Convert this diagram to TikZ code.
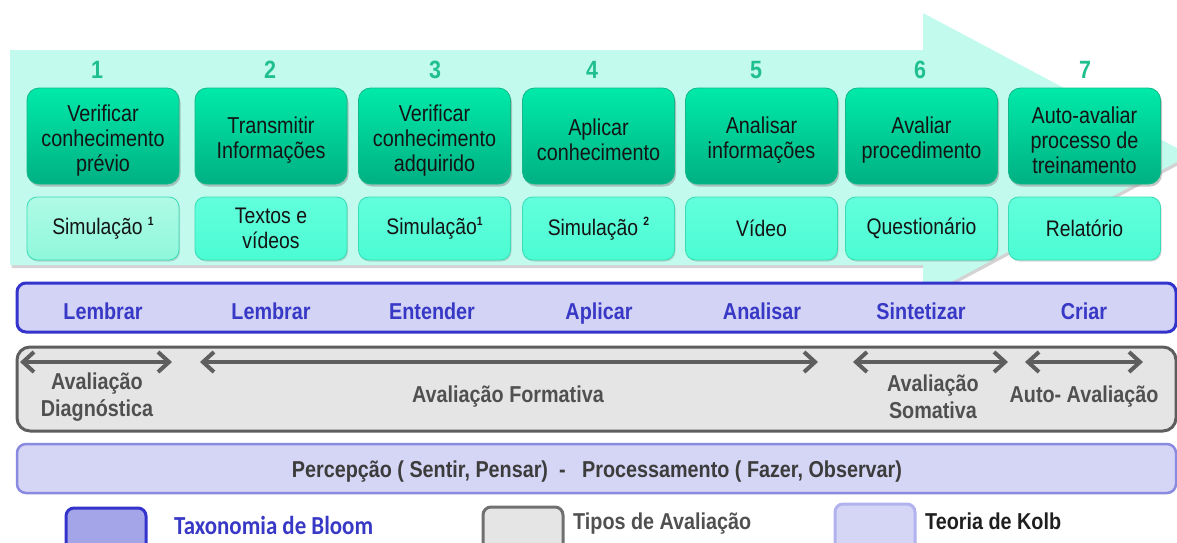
\documentclass[tikz,border=0pt]{standalone}
\usepackage{fontspec}
\setmainfont{Liberation Sans}
\newfontfamily\boxfont[FakeStretch=0.86]{Liberation Sans}
\newfontfamily\narfont[FakeStretch=0.86]{Liberation Sans}
\newfontfamily\legfont[FakeStretch=0.88]{Carlito}
\usetikzlibrary{shadows,arrows.meta}

\definecolor{mint}{HTML}{C3FAEE}
\definecolor{numgreen}{HTML}{1FC08E}
\definecolor{stepTop}{HTML}{00EAAA}
\definecolor{stepBot}{HTML}{00B083}
\definecolor{stepLine}{HTML}{12B888}
\definecolor{resFill}{HTML}{4BFCD3}
\definecolor{resTop}{HTML}{62FFDC}
\definecolor{resFirst}{HTML}{8EF8DA}
\definecolor{resLine}{HTML}{38DDB5}
\definecolor{bloomFill}{HTML}{D3D3F5}
\definecolor{bloomLine}{HTML}{3434CC}
\definecolor{bloomText}{HTML}{3838C6}
\definecolor{evalFill}{HTML}{E5E5E5}
\definecolor{evalLine}{HTML}{5E5E5E}
\definecolor{evalText}{HTML}{505050}
\definecolor{kolbFill}{HTML}{D5D5F5}
\definecolor{kolbLine}{HTML}{8A8AE0}
\definecolor{kolbText}{HTML}{3C3C3C}
\definecolor{legBloom}{HTML}{A4A4E8}
\definecolor{legKolbLine}{HTML}{B2B2EE}
\definecolor{legEvalLine}{HTML}{707070}

% small raised bold index after "Simulação"
\newcommand\supmark[1]{\raisebox{0.42em}{\fontsize{12}{12}\selectfont\bfseries #1}}
% taller first line so the step text sits a little lower in its box
\newcommand\toppad{\rule{0pt}{25pt}}

\begin{document}
\begin{tikzpicture}[x=1pt,y=-1pt,
  stepbox/.style={rounded corners=12pt, minimum width=152pt, minimum height=96pt,
    inner sep=0pt, align=center, top color=stepTop, bottom color=stepBot,
    draw=stepLine, line width=0.8pt,
    drop shadow={shadow xshift=1.5pt, shadow yshift=-2.5pt, opacity=0.45},
    font=\boxfont\fontsize{23}{25}\selectfont, text=black!92},
  resbox/.style={rounded corners=10pt, minimum width=152pt, minimum height=63pt,
    inner sep=0pt, align=center, top color=resTop, bottom color=resFill,
    draw=resLine, line width=0.8pt,
    drop shadow={shadow xshift=1pt, shadow yshift=-1.5pt, opacity=0.3},
    font=\boxfont\fontsize{22.5}{25}\selectfont, text=black!92},
  numlbl/.style={font=\narfont\bfseries\fontsize{25}{25}\selectfont, text=numgreen, anchor=base},
  bloomlbl/.style={font=\narfont\bfseries\fontsize{23}{25}\selectfont, text=bloomText, anchor=base},
  evallbl/.style={font=\narfont\bfseries\fontsize{23}{27}\selectfont, text=evalText, align=center, inner sep=0pt},
  evalarrow/.style={draw=evalLine, line width=4pt,
    {Straight Barb[length=11pt,width=20pt]}-{Straight Barb[length=11pt,width=20pt]}},
  legbox/.style={rounded corners=8pt, minimum width=80pt, minimum height=60pt, line width=3pt},
  legtxt/.style={anchor=west, inner sep=0pt, font=\narfont\bfseries\fontsize{23}{25}\selectfont}
]
\useasboundingbox (0,0) rectangle (1177,542);
\clip (0,0) rectangle (1177,542);

% big process arrow in the background
\fill[mint, drop shadow={shadow xshift=1.5pt, shadow yshift=-3pt, opacity=0.35}]
  (10,50) -- (923,50) -- (923,13) -- (1190,155) -- (923,297) -- (923,265) -- (10,265) -- cycle;

% step numbers
\foreach \i/\x in {1/97,2/270,3/435,4/592,5/756,6/920,7/1085}
  \node[numlbl] (num\i) at (\x,78) {\i};

% steps
\node[stepbox] (step1) at (103,136)   {\toppad Verificar\\conhecimento\\prévio};
\node[stepbox] (step2) at (271,136)   {\toppad Transmitir\\Informações};
\node[stepbox] (step3) at (434.5,136) {\toppad Verificar\\conhecimento\\adquirido};
\node[stepbox] (step4) at (598.5,136) {\toppad Aplicar\\conhecimento};
\node[stepbox] (step5) at (761.5,136) {\toppad Analisar\\informações};
\node[stepbox] (step6) at (921.5,136) {\toppad Avaliar\\procedimento};
\node[stepbox] (step7) at (1084.5,136){\toppad Auto-avaliar\\processo de\\treinamento};

% resources
\node[resbox, top color=resFirst!70!white, bottom color=resFirst] (res1) at (103,228.5) {Simulação \supmark{1}};
\node[resbox] (res2) at (271,228.5)   {Textos e\\vídeos};
\node[resbox] (res3) at (434.5,228.5) {Simulação\supmark{1}};
\node[resbox] (res4) at (598.5,228.5) {Simulação \supmark{2}};
\node[resbox] (res5) at (761.5,228.5) {Vídeo};
\node[resbox] (res6) at (921.5,228.5) {Questionário};
\node[resbox] (res7) at (1084.5,228.5){Relatório};

% Bloom row
\node[draw=bloomLine, fill=bloomFill, line width=3pt, rounded corners=9pt,
      minimum width=1159pt, minimum height=49pt] (bloom) at (596.5,307.5) {};
\node[bloomlbl] (b1) at (103,319) {Lembrar};
\node[bloomlbl] (b2) at (271,319) {Lembrar};
\node[bloomlbl] (b3) at (432,319) {Entender};
\node[bloomlbl] (b4) at (599,319) {Aplicar};
\node[bloomlbl] (b5) at (762,319) {Analisar};
\node[bloomlbl] (b6) at (921,319) {Sintetizar};
\node[bloomlbl] (b7) at (1084,319) {Criar};

% evaluation types row
\node[draw=evalLine, fill=evalFill, line width=3pt, rounded corners=13pt,
      minimum width=1159pt, minimum height=84pt] (evalrow) at (596.5,389) {};
\coordinate (d1a) at (20,362);   \coordinate (d1b) at (172,362);
\coordinate (d2a) at (200,362);  \coordinate (d2b) at (818,362);
\coordinate (d3a) at (853,362);  \coordinate (d3b) at (1008,362);
\coordinate (d4a) at (1025,362); \coordinate (d4b) at (1143,362);
\draw[evalarrow] (d1a) -- (d1b);
\draw[evalarrow] (d2a) -- (d2b);
\draw[evalarrow] (d3a) -- (d3b);
\draw[evalarrow] (d4a) -- (d4b);
\node[evallbl] (e1) at (97,397)   {Avaliação\\Diagnóstica};
\node[evallbl] (e2) at (508,397)  {Avaliação Formativa};
\node[evallbl] (e3) at (933,397)  {Avaliação\\Somativa};
\node[evallbl] (e4) at (1084,397) {Auto- Avaliação};

% Kolb row
\node[draw=kolbLine, fill=kolbFill, line width=2.5pt, rounded corners=9pt,
      minimum width=1159pt, minimum height=49pt] (kolb) at (596.5,468.5) {};
\node[font=\narfont\bfseries\fontsize{23}{25}\selectfont, text=kolbText, anchor=base]
  (kolbtxt) at (597,477) {Percepção ( Sentir, Pensar)\ \ -\ \ \ Processamento ( Fazer, Observar)};

% legend
\node[legbox, draw=bloomLine, fill=legBloom] (lg1) at (106,538) {};
\node[legtxt, font=\legfont\bfseries\fontsize{26}{26}\selectfont, text=bloomText] (lt1) at (174,525) {Taxonomia de Bloom};
\node[legbox, draw=legEvalLine, fill=evalFill] (lg2) at (523,537) {};
\node[legtxt, text=evalText] (lt2) at (573,524) {Tipos de Avaliação};
\node[legbox, draw=legKolbLine, fill=kolbFill] (lg3) at (875,534) {};
\node[legtxt, text=black!88] (lt3) at (925,521) {Teoria de Kolb};
\end{tikzpicture}
\end{document}
